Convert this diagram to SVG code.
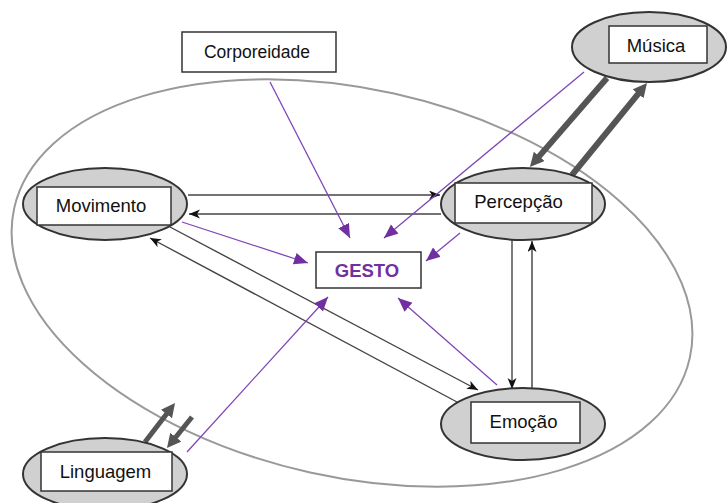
<svg xmlns="http://www.w3.org/2000/svg" width="727" height="503" viewBox="0 0 727 503">
<style>
.lbl{font-family:"Liberation Sans",Arial,sans-serif;font-size:18.5px;fill:#111;text-anchor:middle}
.gesto{font-family:"Liberation Sans",Arial,sans-serif;font-size:18.5px;font-weight:bold;fill:#7030A0;text-anchor:middle}
.ell{fill:#d0d0d0;stroke:#333;stroke-width:2}
.box{fill:#fff;stroke:#333;stroke-width:1.5}
.blk{stroke:#444;stroke-width:1.4;fill:none;marker-end:url(#ab)}
.pur{stroke:#7f45b8;stroke-width:1.3;fill:none;marker-end:url(#ap)}
.thk{stroke:#555;stroke-width:6;fill:none;marker-end:url(#at)}
</style>
<defs>
<marker id="ab" markerUnits="userSpaceOnUse" markerWidth="12" markerHeight="10" refX="11" refY="4.5" orient="auto">
<path d="M0,0 L11,4.5 L0,9 L3,4.5 z" fill="#111"/>
</marker>
<marker id="ap" markerUnits="userSpaceOnUse" markerWidth="15" markerHeight="13" refX="14" refY="6" orient="auto">
<path d="M0,0 L14,6 L0,12 z" fill="#7030A0"/>
</marker>
<marker id="at" markerUnits="userSpaceOnUse" markerWidth="16" markerHeight="16" refX="2" refY="7" orient="auto">
<path d="M0,0 L14,7 L0,14 z" fill="#555"/>
</marker>
</defs>
<rect width="727" height="503" fill="#fff"/>
<g id="boundary">
<ellipse cx="352" cy="283" rx="346" ry="194" transform="rotate(12.5 352 283)" fill="none" stroke="#999" stroke-width="2"/>
</g>
<g id="connectors">
<line class="blk" x1="188" y1="195" x2="440" y2="195"/>
<line class="blk" x1="441" y1="214" x2="189" y2="214"/>
<line class="blk" x1="512" y1="240" x2="512" y2="389"/>
<line class="blk" x1="532" y1="389" x2="532" y2="241" style="stroke:#777;stroke-width:2"/>
<line class="blk" x1="170" y1="227" x2="478" y2="390"/>
<line class="blk" x1="457" y1="402" x2="150" y2="238"/>
<line class="pur" x1="270" y1="82" x2="350" y2="238"/>
<line class="pur" x1="584" y1="72" x2="384" y2="238"/>
<line class="pur" x1="460" y1="233" x2="426" y2="261"/>
<line class="pur" x1="182" y1="222" x2="308" y2="263"/>
<line class="pur" x1="187" y1="452" x2="328" y2="297"/>
<line class="pur" x1="497" y1="385" x2="398" y2="298"/>
<line class="thk" x1="607" y1="78" x2="537.8" y2="157.9"/>
<line class="thk" x1="572" y1="175" x2="639.4" y2="92.3"/>
<line class="thk" x1="145" y1="442" x2="167.7" y2="412.5" style="stroke-width:5"/>
<line class="thk" x1="192" y1="417" x2="174.5" y2="438.7" style="stroke-width:5"/>
</g>
<g id="corporeidade">
<rect class="box" x="182" y="32" width="154" height="40"/>
<text class="lbl" x="257" y="58" style="font-size:17.5px">Corporeidade</text>
</g>
<g id="musica">
<ellipse class="ell" cx="649" cy="47" rx="77" ry="35"/>
<rect class="box" x="609" y="26" width="98" height="37"/>
<text class="lbl" x="656" y="52">Música</text>
</g>
<g id="percepcao">
<ellipse class="ell" cx="523" cy="204" rx="82" ry="36"/>
<rect class="box" x="455" y="183" width="137" height="40"/>
<text class="lbl" x="518.5" y="208">Percepção</text>
</g>
<g id="movimento">
<ellipse class="ell" cx="105" cy="204" rx="82" ry="36"/>
<rect class="box" x="37" y="187" width="134" height="38"/>
<text class="lbl" x="101" y="212">Movimento</text>
</g>
<g id="emocao">
<ellipse class="ell" cx="523" cy="424" rx="82" ry="36"/>
<rect class="box" x="471" y="402" width="109" height="41"/>
<text class="lbl" x="523.5" y="428">Emoção</text>
</g>
<g id="linguagem">
<ellipse class="ell" cx="105" cy="474" rx="82" ry="36"/>
<rect class="box" x="41" y="452" width="131" height="39"/>
<text class="lbl" x="105.5" y="478">Linguagem</text>
</g>
<g id="gesto">
<rect class="box" x="316" y="252" width="105" height="36"/>
<text class="gesto" x="367" y="277">GESTO</text>
</g>
</svg>
